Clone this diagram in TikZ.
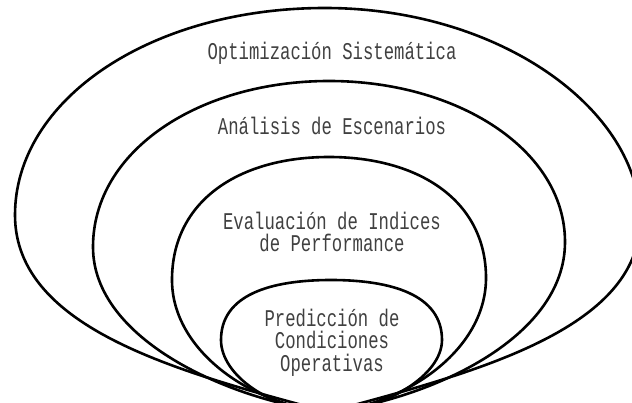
\documentclass[tikz,border=0pt]{standalone}
\usepackage{fontspec}
\newfontfamily\eggfont{Liberation Mono}[FakeStretch=0.72]
\usepackage{tikz}

\begin{document}
\begin{tikzpicture}[
    x = 1pt, y = -1pt,
    egg/.style = {line width=2.6pt, line join=round},
    lbl/.style = {font=\eggfont\fontsize{24}{22.5}\selectfont, text=black!75,
                  align=center, anchor=base, inner sep=0pt}
  ]
  \useasboundingbox (0,0) rectangle (632,403);
  \clip (0,0) rectangle (632,403);

  \coordinate (base) at (328,412);

  % outer level
  \draw[egg] (base) .. controls (183,373) and (15,330) .. (15,215)
    .. controls (15,100) and (150,8) .. (325,8)
    .. controls (500,8) and (640,110) .. (640,220)
    .. controls (640,330) and (473,373) .. (base);
  % second level
  \draw[egg] (base) .. controls (230,400) and (93,340) .. (93,247)
    .. controls (93,150) and (200,81) .. (329,81)
    .. controls (458,81) and (565,150) .. (565,242)
    .. controls (565,340) and (426,400) .. (base);
  % third level
  \draw[egg] (base) .. controls (250,405) and (172,350) .. (172,280)
    .. controls (172,200) and (240,157) .. (329,157)
    .. controls (418,157) and (486,200) .. (486,278)
    .. controls (486,350) and (406,405) .. (base);
  % inner level
  \draw[egg] (base) .. controls (270,410) and (221,375) .. (221,340)
    .. controls (221,295) and (270,280) .. (331,280)
    .. controls (392,280) and (442,295) .. (442,340)
    .. controls (442,375) and (386,410) .. (base);

  % base anchor sits on the last line
  \node[lbl] (optim) at (332,60) {Optimización Sistemática};
  \node[lbl] (escen) at (332,135) {Análisis de Escenarios};
  \node[lbl] (indic) at (332,252) {Evaluación de Indices\\de Performance};
  \node[lbl] (predic) at (332,371) {Predicción de\\Condiciones\\Operativas};
\end{tikzpicture}
\end{document}
